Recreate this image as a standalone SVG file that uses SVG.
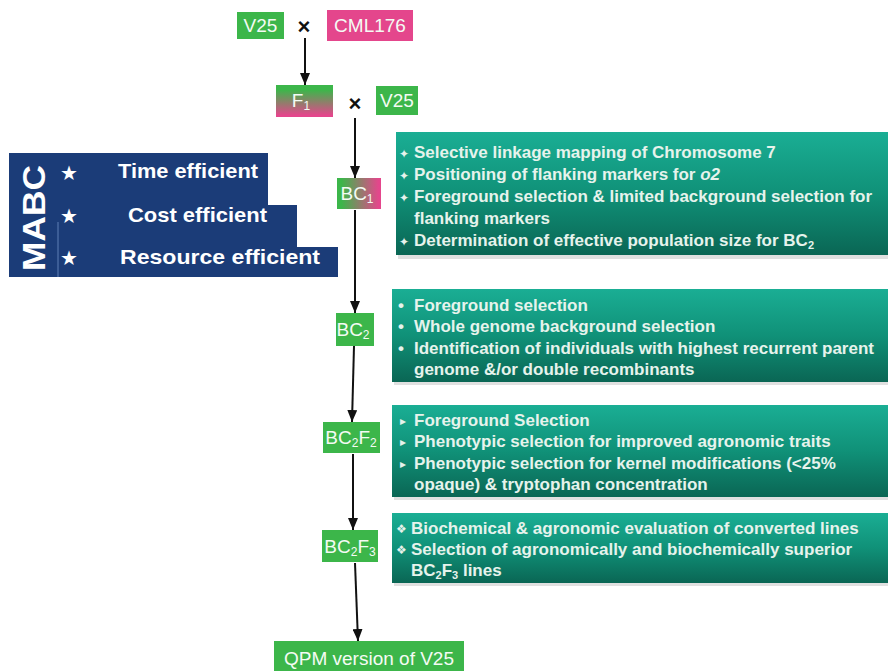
<svg xmlns="http://www.w3.org/2000/svg" width="888" height="671" viewBox="0 0 888 671">
<defs>
<linearGradient id="teal" x1="0" y1="0" x2="0" y2="1">
<stop offset="0" stop-color="#1aae94"/>
<stop offset="0.5" stop-color="#109178"/>
<stop offset="1" stop-color="#0a6654"/>
</linearGradient>
<linearGradient id="gpV" x1="0" y1="0" x2="0" y2="1">
<stop offset="0.15" stop-color="#3cb64a"/>
<stop offset="0.95" stop-color="#e4468c"/>
</linearGradient>
<linearGradient id="gpH" x1="0" y1="0" x2="1" y2="0">
<stop offset="0.1" stop-color="#3cb64a"/>
<stop offset="0.95" stop-color="#e4468c"/>
</linearGradient>
<marker id="arrow" viewBox="0 0 12 10" refX="12" refY="5" markerWidth="12" markerHeight="10" markerUnits="userSpaceOnUse" orient="auto">
<path d="M0,0 L12,5 L0,10 z" fill="#111"/>
</marker>
</defs>
<style>
.gbox{fill:#3cb64a}
.pbox{fill:#e4468c}
.lbl{font-family:"Liberation Sans",Arial,sans-serif;font-size:19px;fill:#f4fbf4;text-anchor:middle}
.cross{font-family:"Liberation Sans",Arial,sans-serif;font-size:22px;font-weight:bold;fill:#111;text-anchor:middle}
.tbox{fill:url(#teal)}
.shadow{fill:#000;opacity:0.12}
.item{font-family:"Liberation Sans",Arial,sans-serif;font-size:17px;font-weight:bold;fill:#e6f3ec}
.bul{font-family:"DejaVu Sans",sans-serif;font-size:12px;fill:#e6f3ec}
.navy{fill:#1b3c78}
.mabc{font-family:"Liberation Sans",Arial,sans-serif;font-size:31px;font-weight:bold;fill:#ffffff}
.star{font-family:"DejaVu Sans",sans-serif;font-size:20px;fill:#ffffff}
.eff{font-family:"Liberation Sans",Arial,sans-serif;font-size:21px;font-weight:bold;fill:#ffffff}
.conn{stroke:#111;stroke-width:2;fill:none}
</style>

<g id="connectors">
<line class="conn" x1="305" y1="38" x2="305" y2="85" marker-end="url(#arrow)"/>
<line class="conn" x1="355" y1="118" x2="355" y2="178" marker-end="url(#arrow)"/>
<line class="conn" x1="355" y1="210" x2="355" y2="313" marker-end="url(#arrow)"/>
<line class="conn" x1="354" y1="346" x2="352" y2="422" marker-end="url(#arrow)"/>
<line class="conn" x1="353" y1="454" x2="353" y2="530" marker-end="url(#arrow)"/>
<line class="conn" x1="355" y1="563" x2="358" y2="641" marker-end="url(#arrow)"/>
</g>

<g id="v25-top">
<rect class="gbox" x="237" y="12" width="47" height="27"/>
<text class="lbl" x="260.5" y="32">V25</text>
</g>
<g id="cross1"><text class="cross" x="304" y="34">×</text></g>
<g id="cml176">
<rect class="pbox" x="327" y="10" width="86" height="31"/>
<text class="lbl" x="370" y="32">CML176</text>
</g>

<g id="f1">
<rect x="276" y="85" width="57" height="32" fill="url(#gpV)"/>
<text class="lbl" x="301" y="107">F<tspan font-size="12" dy="3">1</tspan></text>
</g>
<g id="cross2"><text class="cross" x="355" y="111">×</text></g>
<g id="v25-second">
<rect class="gbox" x="376" y="86" width="42" height="29"/>
<text class="lbl" x="397" y="107">V25</text>
</g>

<g id="bc1">
<rect x="337" y="178" width="44" height="31" fill="url(#gpH)"/>
<text class="lbl" x="357" y="200">BC<tspan font-size="12" dy="3">1</tspan></text>
</g>

<g id="mabc">
<path class="navy" d="M9,153 H268 V205 H297 V247 H338 V277 H9 Z"/>
<line x1="58" y1="222" x2="58" y2="277" stroke="#5f7fb5" stroke-width="1"/>
<text class="mabc" transform="translate(45,218) rotate(-90)" text-anchor="middle" textLength="106" lengthAdjust="spacingAndGlyphs">MABC</text>
<text class="star" x="60" y="180">★</text>
<text class="star" x="60" y="223">★</text>
<text class="star" x="60" y="265">★</text>
<text class="eff" x="118" y="178" textLength="140" lengthAdjust="spacingAndGlyphs">Time efficient</text>
<text class="eff" x="128" y="222" textLength="139" lengthAdjust="spacingAndGlyphs">Cost efficient</text>
<text class="eff" x="120" y="264" textLength="200" lengthAdjust="spacingAndGlyphs">Resource efficient</text>
</g>

<g id="step1">
<rect class="shadow" x="398" y="135" width="490" height="124"/>
<rect class="tbox" x="396" y="132" width="492" height="123"/>
<text class="bul" x="399" y="158" font-size="17">✦</text>
<text class="item" x="414" y="158">Selective linkage mapping of Chromosome 7</text>
<text class="bul" x="399" y="180" font-size="17">✦</text>
<text class="item" x="414" y="180">Positioning of flanking markers for <tspan font-style="italic">o2</tspan></text>
<text class="bul" x="399" y="202" font-size="17">✦</text>
<text class="item" x="414" y="202">Foreground selection &amp; limited background selection for</text>
<text class="item" x="414" y="224">flanking markers</text>
<text class="bul" x="399" y="246" font-size="17">✦</text>
<text class="item" x="414" y="246">Determination of effective population size for BC<tspan font-size="11" dy="3">2</tspan></text>
</g>

<g id="bc2">
<rect class="gbox" x="336" y="313" width="38" height="33"/>
<text class="lbl" x="353" y="336">BC<tspan font-size="12" dy="3">2</tspan></text>
</g>
<g id="step2">
<rect class="shadow" x="394" y="292" width="494" height="93"/>
<rect class="tbox" x="392" y="289" width="496" height="93"/>
<text class="item" x="398" y="311">•</text>
<text class="item" x="414" y="311">Foreground selection</text>
<text class="item" x="398" y="332">•</text>
<text class="item" x="414" y="332">Whole genome background selection</text>
<text class="item" x="398" y="354">•</text>
<text class="item" x="414" y="354">Identification of individuals with highest recurrent parent</text>
<text class="item" x="414" y="375">genome &amp;/or double recombinants</text>
</g>

<g id="bc2f2">
<rect class="gbox" x="323" y="422" width="57" height="31"/>
<text class="lbl" x="351" y="444">BC<tspan font-size="12" dy="3">2</tspan><tspan dy="-3">F</tspan><tspan font-size="12" dy="3">2</tspan></text>
</g>
<g id="step3">
<rect class="shadow" x="394" y="408" width="494" height="92"/>
<rect class="tbox" x="392" y="405" width="496" height="92"/>
<text class="bul" x="400" y="425">▸</text>
<text class="item" x="414" y="426">Foreground Selection</text>
<text class="bul" x="400" y="446">▸</text>
<text class="item" x="414" y="447">Phenotypic selection for improved agronomic traits</text>
<text class="bul" x="400" y="468">▸</text>
<text class="item" x="414" y="469">Phenotypic selection for kernel modifications (&lt;25%</text>
<text class="item" x="414" y="490">opaque) &amp; tryptophan concentration</text>
</g>

<g id="bc2f3">
<rect class="gbox" x="322" y="530" width="56" height="32"/>
<text class="lbl" x="350" y="553">BC<tspan font-size="12" dy="3">2</tspan><tspan dy="-3">F</tspan><tspan font-size="12" dy="3">3</tspan></text>
</g>
<g id="step4">
<rect class="shadow" x="394" y="516" width="494" height="70"/>
<rect class="tbox" x="392" y="513" width="496" height="70"/>
<text class="bul" x="396" y="533">❖</text>
<text class="item" x="411" y="534">Biochemical &amp; agronomic evaluation of converted lines</text>
<text class="bul" x="396" y="554">❖</text>
<text class="item" x="411" y="555">Selection of agronomically and biochemically superior</text>
<text class="item" x="411" y="576">BC<tspan font-size="11" dy="3">2</tspan><tspan dy="-3">F</tspan><tspan font-size="11" dy="3">3</tspan><tspan dy="-3"> lines</tspan></text>
</g>

<g id="qpm">
<rect class="gbox" x="274" y="641" width="190" height="30"/>
<text class="lbl" x="369" y="665" font-size="21">QPM version of V25</text>
</g>
</svg>
